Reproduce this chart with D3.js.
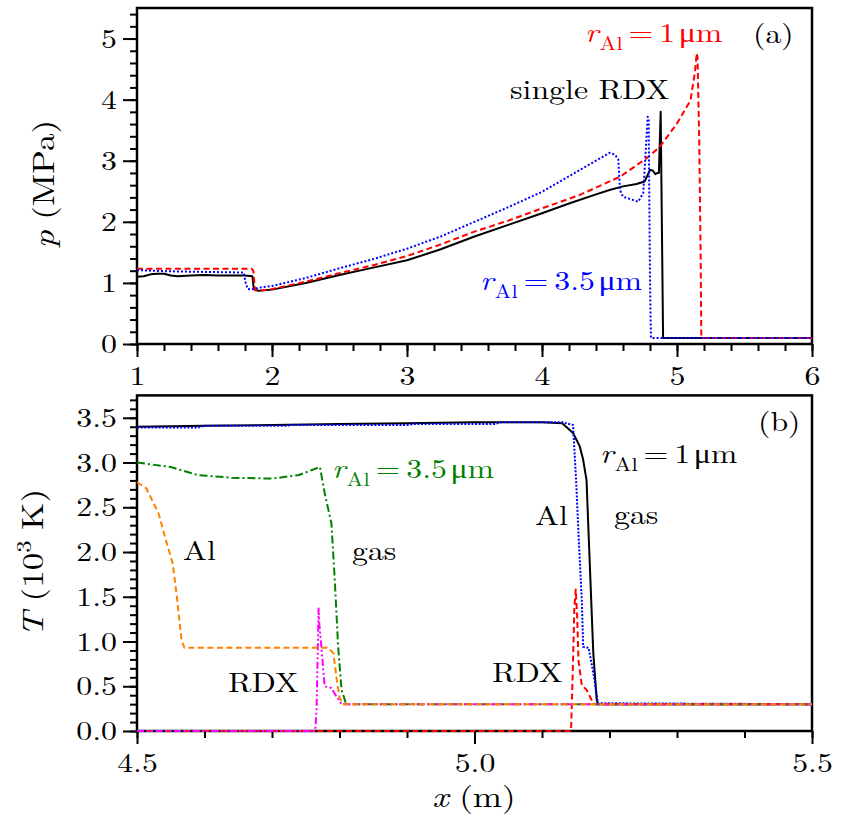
<!DOCTYPE html>
<html><head><meta charset="utf-8">
<script src="https://cdn.jsdelivr.net/npm/d3@7"></script>
<style>body{margin:0;background:#fff} svg{display:block}</style>
</head><body>
<svg id="c" width="842" height="821"></svg>
<script>
// ---------- Panel (a): pressure p (MPa) vs x (m) ----------
const aSingleX = [1.00,1.05,1.10,1.15,1.20,1.25,1.30,1.40,1.50,1.60,1.70,1.80,1.855,1.865,1.90,2.00,2.25,2.50,2.75,3.00,3.25,3.50,3.75,4.00,4.20,4.40,4.50,4.60,4.70,4.76,4.80,4.82,4.84,4.855,4.866,4.879,4.897,5.00,6.00];
const aSingleP = [1.10,1.11,1.14,1.15,1.15,1.12,1.11,1.12,1.13,1.12,1.12,1.12,1.11,0.90,0.87,0.89,1.00,1.13,1.25,1.37,1.55,1.76,1.95,2.14,2.30,2.45,2.52,2.58,2.62,2.66,2.85,2.84,2.78,2.80,2.80,3.80,0.10,0.10,0.10];
const aR1X = [1.00,1.50,1.85,1.862,1.875,1.90,2.00,2.25,2.50,2.75,3.00,3.25,3.50,3.75,4.00,4.28,4.58,4.775,4.874,5.00,5.10,5.133,5.146,5.152,5.165,5.175,5.18,6.00];
const aR1P = [1.23,1.23,1.23,1.20,0.88,0.87,0.90,1.02,1.16,1.29,1.44,1.63,1.84,2.02,2.22,2.44,2.74,3.04,3.23,3.61,3.99,4.45,4.76,4.70,3.28,1.48,0.10,0.10];
const aR35X = [1.00,1.10,1.25,1.50,1.79,1.805,1.82,1.85,1.90,2.00,2.25,2.50,2.75,3.00,3.25,3.50,3.75,4.00,4.28,4.40,4.50,4.54,4.565,4.578,4.60,4.713,4.75,4.763,4.783,4.79,4.80,4.807,5.00,6.00];
const aR35P = [1.21,1.20,1.19,1.18,1.17,1.00,0.90,0.89,0.92,0.95,1.08,1.24,1.39,1.56,1.76,2.00,2.24,2.49,2.85,3.00,3.13,3.10,3.02,2.52,2.41,2.33,2.47,2.96,3.72,3.68,1.05,0.10,0.10,0.10];

// ---------- Panel (b): temperature T (10^3 K) vs x (m) ----------
const bGas1X = [4.50,4.60,4.70,4.80,4.90,5.00,5.10,5.13,5.146,5.156,5.161,5.166,5.169,5.176,5.181,5.183,5.50];
const bGas1T = [3.40,3.41,3.42,3.43,3.44,3.45,3.45,3.44,3.33,3.18,3.03,2.80,2.21,0.87,0.35,0.30,0.30];
const bAl1X = [4.50,4.59,4.60,4.72,4.73,4.90,4.91,5.03,5.04,5.13,5.146,5.151,5.154,5.159,5.161,5.169,5.176,5.183,5.50];
const bAl1T = [3.39,3.39,3.41,3.41,3.42,3.42,3.43,3.43,3.45,3.45,3.42,2.73,2.21,1.46,0.94,0.93,0.65,0.31,0.30];
const bRdx1X = [4.50,5.143,5.145,5.148,5.150,5.152,5.154,5.159,5.166,5.176,5.18,5.50];
const bRdx1T = [0,0,0.50,1.39,1.58,1.30,0.79,0.51,0.46,0.31,0.30,0.30];
const bGas35X = [4.50,4.52,4.55,4.59,4.64,4.70,4.74,4.771,4.778,4.788,4.793,4.798,4.803,4.81,5.50];
const bGas35T = [3.00,2.98,2.95,2.86,2.83,2.82,2.86,2.95,2.66,2.32,1.69,0.94,0.46,0.30,0.30];
const bAl35X = [4.50,4.514,4.532,4.544,4.553,4.559,4.566,4.57,4.70,4.783,4.791,4.796,4.80,4.805,5.50];
const bAl35T = [2.78,2.71,2.43,2.10,1.87,1.50,1.02,0.93,0.93,0.93,0.87,0.57,0.38,0.30,0.30];
const bRdx35X = [4.50,4.764,4.766,4.769,4.770,4.774,4.778,4.788,4.796,4.803,5.50];
const bRdx35T = [0,0,0.23,1.37,1.20,0.87,0.50,0.48,0.38,0.30,0.30];

// ---------- ticks ----------
const aXTicks = [1,2,3,4,5,6];
const aYTicks = [0,1,2,3,4,5];
const bXTicks = [4.5,5.0,5.5];
const bYTicks = [0,0.5,1.0,1.5,2.0,2.5,3.0,3.5];

const FONT = '"Latin Modern Roman","Liberation Serif",serif';
const svg = d3.select('#c');
const SX = 1.18;

const xA = d3.scaleLinear().domain([1,6]).range([137,812]);
const yA = d3.scaleLinear().domain([0,5.5]).range([344,8]);
const xB = d3.scaleLinear().domain([4.5,5.5]).range([137,812]);
const yB = d3.scaleLinear().domain([0,3.75]).range([731,395.4]);

function stretchText(sel){
  sel.selectAll('text').each(function(){
    const t = d3.select(this);
    const x = +t.attr('x') || 0, y = +t.attr('y') || 0;
    t.attr('transform', `translate(${x},${y}) scale(${SX},1)`).attr('x',0).attr('y',0);
  });
}
function styleAxis(g){
  g.attr('font-family', null).attr('font-size', null);
  g.select('.domain').remove();
  g.selectAll('line').attr('stroke','#000').attr('stroke-width',2);
  g.selectAll('text').attr('font-size',27).attr('fill','#000').style('font-family',FONT);
}

function axes(x, y, xTicks, yTicks, xMinor, yMinor, xFmt, yFmt){
  const yb = y.range()[0], yt = y.range()[1], xl = x.range()[0], xr = x.range()[1];
  svg.append('g').attr('transform',`translate(0,${yb})`)
    .call(d3.axisBottom(x).tickValues(xMinor).tickSize(7).tickFormat(''))
    .call(styleAxis);
  const gx = svg.append('g').attr('transform',`translate(0,${yb})`)
    .call(d3.axisBottom(x).tickValues(xTicks).tickSize(13).tickPadding(8.5).tickFormat(xFmt))
    .call(styleAxis);
  stretchText(gx);
  svg.append('g').attr('transform',`translate(${xl},0)`)
    .call(d3.axisLeft(y).tickValues(yMinor).tickSize(7).tickFormat(''))
    .call(styleAxis);
  const gy = svg.append('g').attr('transform',`translate(${xl},0)`)
    .call(d3.axisLeft(y).tickValues(yTicks).tickSize(14).tickPadding(6).tickFormat(yFmt))
    .call(styleAxis);
  stretchText(gy);
  svg.append('rect').attr('x',xl).attr('y',yt).attr('width',xr-xl).attr('height',yb-yt)
    .attr('fill','none').attr('stroke','#000').attr('stroke-width',2.5);
}

axes(xA, yA, aXTicks, aYTicks,
  d3.range(0,26).map(i=>1+i*0.2), d3.range(0,28).map(i=>i*0.2),
  d3.format('d'), d3.format('d'));
axes(xB, yB, bXTicks, bYTicks,
  d3.range(0,11).map(i=>4.5+i*0.1), d3.range(0,38).map(i=>i*0.1),
  d3.format('.1f'), d3.format('.1f'));

function curve(x, y, xs, ys, color, dash, w){
  const pts = xs.map((v,i)=>[v, ys[i]]);
  const line = d3.line().x(d=>x(d[0])).y(d=>y(d[1]));
  svg.append('path').attr('d', line(pts)).attr('fill','none')
    .attr('stroke', color).attr('stroke-width', w||2)
    .attr('stroke-dasharray', dash||null).attr('stroke-linejoin','round');
}

// panel (a)
curve(xA, yA, aSingleX, aSingleP, '#000', null, 2);
curve(xA, yA, aR1X, aR1P, '#ff0000', '6,3.5', 2);
curve(xA, yA, aR35X, aR35P, '#0000ff', '2,2', 2);

// panel (b)
curve(xB, yB, bGas1X, bGas1T, '#000', null, 2);
curve(xB, yB, bAl1X, bAl1T, '#0000ff', '2,1.6', 2);
curve(xB, yB, bRdx1X, bRdx1T, '#ff0000', '6,3.5', 2);
curve(xB, yB, bGas35X, bGas35T, '#008000', '8,3,2,3', 2);
curve(xB, yB, bRdx35X, bRdx35T, '#ff00ff', '7,2.5,2,2.5,2,2.5', 2);
curve(xB, yB, bAl35X, bAl35T, '#ff7f00', '6,3.5', 2);

// text helpers
function plain(x, y, str, color){
  svg.append('text').attr('transform',`translate(${x},${y}) scale(${SX},1)`)
    .style('font-family',FONT).attr('font-size',27).attr('fill',color||'#000').text(str);
}
function rLabel(x, y, val, color){
  const t = svg.append('text').attr('transform',`translate(${x},${y}) scale(${SX},1)`)
    .style('font-family',FONT).attr('font-size',27).attr('fill',color);
  t.append('tspan').attr('font-style','italic').text('r');
  t.append('tspan').attr('font-size',19).attr('dy',7.5).attr('dx',1).text('Al');
  t.append('tspan').attr('dy',-7.5).attr('dx',5).text('=');
  t.append('tspan').attr('dx',5).text(val);
  t.append('tspan').attr('dx',3).text('\u03bcm');
}

// panel (a) annotations
rLabel(585, 42, '1', '#ff0000');
plain(510, 99, 'single RDX');
rLabel(480, 290, '3.5', '#0000ff');
plain(753, 43, '(a)');

// panel (b) annotations
rLabel(332, 478, '3.5', '#008000');
rLabel(600, 463, '1', '#000');
plain(183, 560, 'Al');
plain(352, 560, 'gas');
plain(228, 692, 'RDX');
plain(535, 525, 'Al');
plain(614, 524, 'gas');
plain(492, 682, 'RDX');
plain(758, 431, '(b)');

// axis titles
const ylA = svg.append('text').attr('transform','translate(54,184) rotate(-90) scale(1.17,1)')
  .style('font-family',FONT).attr('text-anchor','middle').attr('font-size',30);
ylA.append('tspan').attr('font-style','italic').text('p');
ylA.append('tspan').attr('dx',9).text('(MPa)');

const ylB = svg.append('text').attr('transform','translate(43,563) rotate(-90) scale(1.17,1)')
  .style('font-family',FONT).attr('text-anchor','middle').attr('font-size',30);
ylB.append('tspan').attr('font-style','italic').text('T');
ylB.append('tspan').attr('dx',9).text('(10');
ylB.append('tspan').attr('font-size',21).attr('dy',-12).text('3');
ylB.append('tspan').attr('dy',12).attr('dx',9).text('K)');

const xl = svg.append('text').attr('transform','translate(474,807) scale(1.17,1)')
  .style('font-family',FONT).attr('text-anchor','middle').attr('font-size',30);
xl.append('tspan').attr('font-style','italic').text('x');
xl.append('tspan').attr('dx',9).text('(m)');
</script>
</body></html>
